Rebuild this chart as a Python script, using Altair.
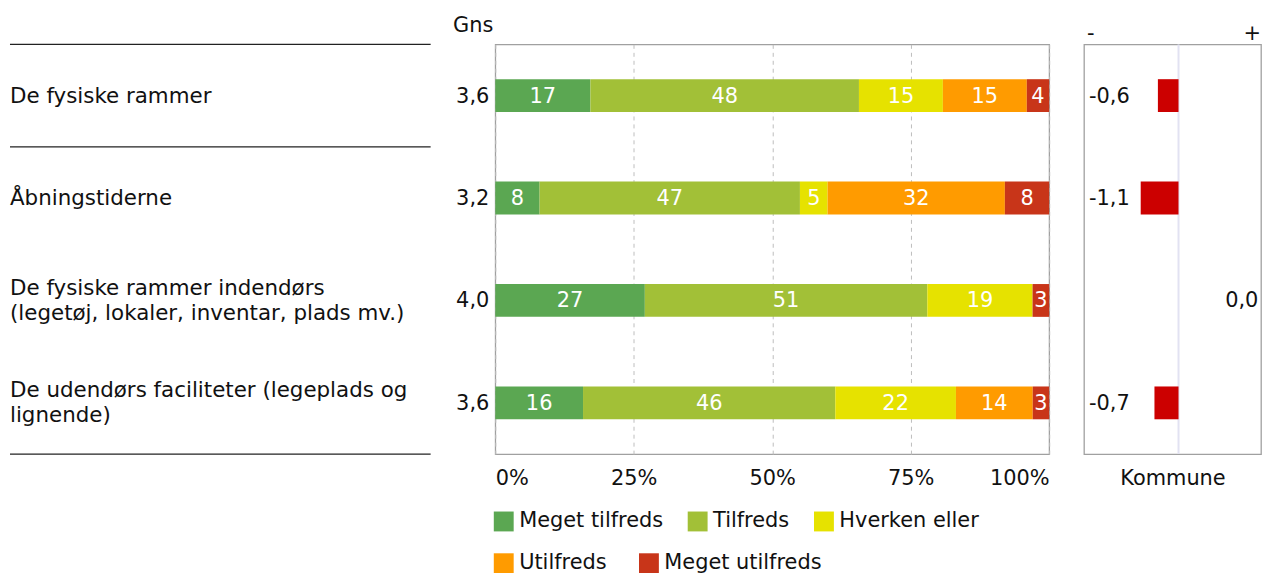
import altair as alt
import pandas as pd

# ---- data -------------------------------------------------------------
items = [
    "De fysiske rammer",
    "Åbningstiderne",
    "De fysiske rammer indendørs\n(legetøj, lokaler, inventar, plads mv.)",
    "De udendørs faciliteter (legeplads og\nlignende)",
]
levels = ["Meget tilfreds", "Tilfreds", "Hverken eller", "Utilfreds", "Meget utilfreds"]
level_colors = ["#5BA752", "#A2C037", "#E6E200", "#FF9B00", "#C83519"]

meget_tilfreds = [17, 8, 27, 16]
tilfreds = [48, 47, 51, 46]
hverken_eller = [15, 5, 19, 22]
utilfreds = [15, 32, 0, 14]
meget_utilfreds = [4, 8, 3, 3]

gns = [3.6, 3.2, 4.0, 3.6]
kommune = [-0.6, -1.1, 0.0, -0.7]

# rows whose top edge gets a separator line, and row whose bottom edge does
rule_top_rows = [items[0], items[1]]
rule_bottom_rows = [items[3]]

FONT = "DejaVu Sans"
FS = 21
H = 412
MW = 557

# ---- tables -----------------------------------------------------------
series = [meget_tilfreds, tilfreds, hverken_eller, utilfreds, meget_utilfreds]
rows = []
for i, it in enumerate(items):
    for j, lev in enumerate(levels):
        rows.append({"item": it, "level": lev, "order": j, "value": series[j][i]})
long_df = pd.DataFrame(rows)
item_df = pd.DataFrame({"item": items, "gns": gns, "kommune": kommune})
rule_df = pd.DataFrame(
    {"item": rule_top_rows + rule_bottom_rows,
     "edge": ["top"] * len(rule_top_rows) + ["bottom"] * len(rule_bottom_rows)}
)

yband = alt.Scale(domain=items, paddingInner=0, paddingOuter=0)

# ---- left panel: labels + separators ------------------------------------
left_text_1 = alt.Chart(item_df).transform_filter(
    "indexof(datum.item, '\\n') < 0"
).mark_text(
    align="left", baseline="middle", fontSize=21.5, lineBreak="\n", lineHeight=25, color="#111", dy=1
).encode(
    y=alt.Y("item:N", scale=yband, axis=None),
    x=alt.value(2),
    text="item:N",
)
left_text_2 = alt.Chart(item_df).transform_filter(
    "indexof(datum.item, '\\n') >= 0"
).mark_text(
    align="left", baseline="middle", fontSize=21.5, lineBreak="\n", lineHeight=25,
    color="#111", dy=-11.5,
).encode(
    y=alt.Y("item:N", scale=yband, axis=None),
    x=alt.value(2),
    text="item:N",
)
left_rule_top = alt.Chart(rule_df).transform_filter("datum.edge == 'top'").mark_rule(
    color="#222", strokeWidth=1.3
).encode(
    y=alt.Y("item:N", scale=yband, axis=None, bandPosition=0),
    x=alt.value(2), x2=alt.value(425),
)
left_rule_bottom = alt.Chart(rule_df).transform_filter("datum.edge == 'bottom'").mark_rule(
    color="#222", strokeWidth=1.3
).encode(
    y=alt.Y("item:N", scale=yband, axis=None, bandPosition=1),
    x=alt.value(2), x2=alt.value(425),
)
left = alt.layer(left_text_1, left_text_2, left_rule_top, left_rule_bottom).properties(
    width=424, height=H, view=alt.ViewBackground(strokeOpacity=0)
)

# ---- middle panel: stacked bars ------------------------------------------
xscale = alt.Scale(domain=[0, 1], nice=False, zero=False)
x_axis = alt.Axis(
    values=[0, 0.25, 0.5, 0.75, 1], format="%", labelFlush=True,
    ticks=False, domain=False, grid=True, gridDash=[4, 4], gridColor="#BDBDBD",
    labelFontSize=FS, labelColor="#111", labelPadding=14,
)
base = alt.Chart(long_df).transform_joinaggregate(
    total="sum(value)", groupby=["item"]
).transform_window(
    cum="sum(value)", groupby=["item"], sort=[alt.SortField("order")], frame=[None, 0]
).transform_calculate(
    x0="(datum.cum - datum.value) / datum.total",
    x1="datum.cum / datum.total",
    xm="(datum.cum - datum.value / 2) / datum.total",
)


def legend_at(y, gap):
    return alt.Legend(
        title=None, orient="none", legendX=488, legendY=y, direction="horizontal",
        symbolType="square", symbolSize=400,
        symbolStrokeWidth=0, symbolOpacity=1, labelFontSize=FS, labelColor="#111",
        columnPadding=gap, labelOffset=5, padding=0, labelLimit=300,
    )


bars_a = base.transform_filter("datum.order <= 2").mark_bar(size=33).encode(
    y=alt.Y("item:N", scale=yband, axis=None),
    x=alt.X("x0:Q", scale=xscale, title=None, axis=x_axis),
    x2="x1:Q",
    color=alt.Color(
        "level:N",
        scale=alt.Scale(domain=levels[:3], range=level_colors[:3]),
        legend=legend_at(469, 24),
    ),
)
bars_b = base.transform_filter("datum.order > 2").mark_bar(size=33).encode(
    y=alt.Y("item:N", scale=yband, axis=None),
    x=alt.X("x0:Q", scale=xscale, title=None, axis=x_axis),
    x2="x1:Q",
    fill=alt.Fill(
        "level:N",
        scale=alt.Scale(domain=levels[3:], range=level_colors[3:]),
        legend=legend_at(511, 31),
    ),
)
bar_text = base.transform_filter("datum.value > 0").mark_text(
    color="white", fontSize=FS, baseline="middle", align="center", dy=1
).encode(
    y=alt.Y("item:N", scale=yband, axis=None),
    x=alt.X("xm:Q", scale=xscale),
    text="value:Q",
)
gns_text = alt.Chart(item_df).transform_calculate(
    lbl="replace(format(datum.gns, '.1f'), '.', ',')"
).mark_text(align="right", baseline="middle", fontSize=FS, color="#111", dy=1).encode(
    y=alt.Y("item:N", scale=yband, axis=None),
    x=alt.value(-6),
    text="lbl:N",
)
gns_head = alt.Chart(pd.DataFrame({"t": ["Gns"]})).mark_text(
    align="right", baseline="middle", fontSize=FS, color="#111"
).encode(x=alt.value(-2), y=alt.value(-18), text="t:N")

middle = alt.layer(bars_a, bars_b, bar_text, gns_text, gns_head).properties(width=MW, height=H)

# ---- right panel: Kommune ------------------------------------------------
kscale = alt.Scale(domain=[-2.75, 2.4], nice=False, zero=False)
k_axis = alt.Axis(
    labels=False, ticks=False, domain=False, grid=False, title="Kommune",
    titleFontSize=FS, titleFontWeight="normal", titleColor="#111", titlePadding=14,
)
zero_rule = alt.Chart(pd.DataFrame({"z": [0]})).mark_rule(
    color="#E2E2F2", strokeWidth=2
).encode(x=alt.X("z:Q", scale=kscale, axis=k_axis))
k_bars = alt.Chart(item_df).mark_bar(size=33, color="#CC0000").encode(
    y=alt.Y("item:N", scale=yband, axis=None),
    x=alt.X("kommune:Q", scale=kscale, axis=k_axis),
    x2=alt.X2(datum=0),
)
k_lbl_expr = "(datum.kommune < 0 ? '-' : '') + replace(format(abs(datum.kommune), '.1f'), '.', ',')"
k_text_neg = alt.Chart(item_df).transform_filter("datum.kommune < 0").transform_calculate(
    lbl=k_lbl_expr
).mark_text(align="left", baseline="middle", fontSize=FS, color="#111", dy=1).encode(
    y=alt.Y("item:N", scale=yband, axis=None), x=alt.value(5), text="lbl:N"
)
k_text_zero = alt.Chart(item_df).transform_filter("datum.kommune >= 0").transform_calculate(
    lbl=k_lbl_expr
).mark_text(align="left", baseline="middle", fontSize=FS, color="#111", dy=1).encode(
    y=alt.Y("item:N", scale=yband, axis=None), x=alt.value(142), text="lbl:N"
)
sign_df = pd.DataFrame({"s": ["-", "+"], "side": ["l", "r"]})
minus_txt = alt.Chart(sign_df).transform_filter("datum.side == 'l'").mark_text(
    align="left", baseline="middle", fontSize=FS, color="#111"
).encode(x=alt.value(3), y=alt.value(-10), text="s:N")
plus_txt = alt.Chart(sign_df).transform_filter("datum.side == 'r'").mark_text(
    align="right", baseline="middle", fontSize=FS, color="#111"
).encode(x=alt.value(178), y=alt.value(-10), text="s:N")

right = alt.layer(zero_rule, k_bars, k_text_neg, k_text_zero, minus_txt, plus_txt).properties(
    width=178, height=H
)

chart = alt.hconcat(
    left,
    alt.hconcat(middle, right, spacing=33).resolve_scale(x="independent", y="independent"),
    spacing=20,
).resolve_scale(x="independent", y="independent").properties(
    padding={"top": 5, "left": 0, "right": 0, "bottom": 0}
).configure(font=FONT).configure_view(stroke="#A0A0A0", strokeWidth=1.3)

chart.save("out.html", embed_options={"renderer": "svg", "actions": False})
